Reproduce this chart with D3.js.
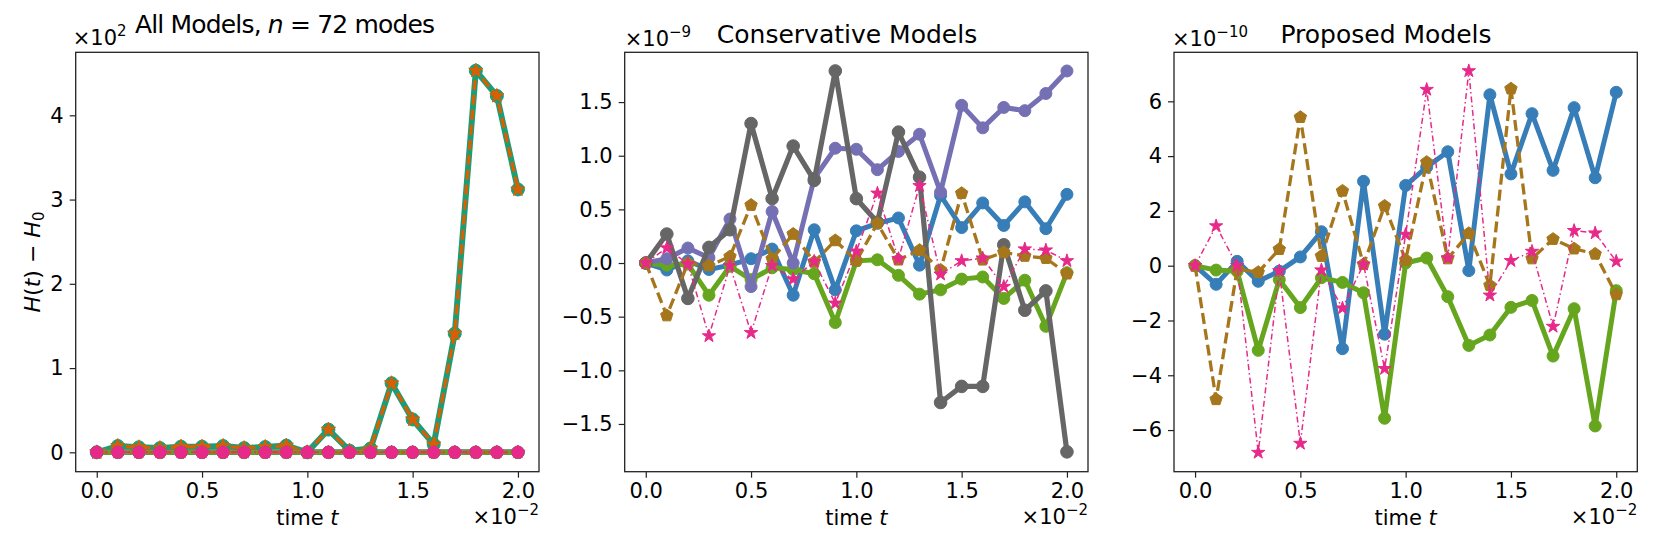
<!DOCTYPE html>
<html>
<head>
<meta charset="utf-8">
<script src="https://cdn.jsdelivr.net/npm/d3@7"></script>
<style>
body { margin: 0; background: #fff; }
text { font-family: "DejaVu Sans", sans-serif; fill: #000; }
</style>
</head>
<body>
<div id="chart"></div>
<script>
// time values, shown in units of 1e-2
var times = [0.0, 0.1, 0.2, 0.3, 0.4, 0.5, 0.6, 0.7, 0.8, 0.9, 1.0,
             1.1, 1.2, 1.3, 1.4, 1.5, 1.6, 1.7, 1.8, 1.9, 2.0];

// All Models panel, non conservative runs (x10^2)
var allTeal   = [0, 0.075, 0.06, 0.05, 0.067, 0.067, 0.075, 0.05, 0.063, 0.08, 0,
                 0.27, 0.02, 0.045, 0.82, 0.39, 0.095, 1.41, 4.53, 4.23, 3.12];
var allOrange = [0, 0.075, 0.06, 0.05, 0.067, 0.067, 0.075, 0.05, 0.063, 0.08, 0,
                 0.27, 0.02, 0.045, 0.82, 0.39, 0.095, 1.41, 4.53, 4.23, 3.12];

// Conservative Models (x10^-9)
var consBlue   = [0, -0.065, 0.02, -0.06, -0.02, 0.04, 0.13, -0.3, 0.31, -0.25, 0.3,
                  0.37, 0.42, -0.02, 0.63, 0.33, 0.56, 0.35, 0.57, 0.32, 0.64];
var consGreen  = [0, -0.02, -0.01, -0.3, -0.03, -0.155, -0.045, -0.06, -0.1, -0.555, 0.02,
                  0.03, -0.115, -0.29, -0.25, -0.15, -0.13, -0.33, -0.16, -0.59, -0.09];
var consPurple = [0, 0.04, 0.14, 0.05, 0.41, -0.22, 0.48, 0.0, 0.79, 1.07, 1.06,
                  0.87, 1.04, 1.2, 0.66, 1.47, 1.26, 1.45, 1.42, 1.58, 1.79];
var consGray   = [0, 0.27, -0.33, 0.146, 0.31, 1.30, 0.6, 1.09, 0.77, 1.79, 0.6,
                  0.38, 1.22, 0.8, -1.30, -1.15, -1.15, 0.17, -0.44, -0.26, -1.76];
var consBrown  = [0, -0.49, 0.0, -0.025, 0.06, 0.54, 0.04, 0.27, 0.01, 0.21, 0.02,
                  0.37, 0.03, 0.12, -0.065, 0.65, 0.03, 0.10, 0.065, 0.045, -0.1];
var consPink   = [0, 0.14, -0.01, -0.68, -0.025, -0.65, -0.025, -0.15, 0.015, -0.375, 0.11,
                  0.65, 0.04, 0.72, -0.105, 0.02, 0.045, -0.22, 0.13, 0.12, 0.02];

// Proposed Models (x10^-10)
var propBlue  = [0, -0.68, 0.16, -0.57, -0.2, 0.32, 1.24, -3.03, 3.08, -2.5, 2.93,
                 3.6, 4.16, -0.18, 6.24, 3.35, 5.55, 3.48, 5.77, 3.21, 6.33];
var propGreen = [0, -0.16, -0.2, -3.09, -0.51, -1.53, -0.44, -0.61, -0.99, -5.57, 0.1,
                 0.28, -1.13, -2.91, -2.53, -1.52, -1.27, -3.3, -1.57, -5.85, -0.91];
var propBrown = [0, -4.88, -0.12, -0.24, 0.6, 5.42, 0.35, 2.73, 0.05, 2.18, 0.21,
                 3.78, 0.26, 1.18, -0.72, 6.46, 0.26, 0.97, 0.62, 0.43, -1.05];
var propPink  = [0, 1.45, 0, -6.82, -0.19, -6.49, -0.16, -1.55, 0.05, -3.76, 1.14,
                 6.43, 0.28, 7.11, -1.08, 0.18, 0.52, -2.22, 1.28, 1.19, 0.16];

var xTicks = [0, 0.5, 1.0, 1.5, 2.0];
var yTicksAll  = [0, 1, 2, 3, 4];
var yTicksCons = [-1.5, -1.0, -0.5, 0, 0.5, 1.0, 1.5];
var yTicksProp = [-6, -4, -2, 0, 2, 4, 6];

// line styles
var styles = {
    teal:   {color: "#1b9e77", width: 6, dash: null, marker: "circle", ms: 6.5},
    orange: {color: "#d95f02", width: 3.2, dash: "10,5", marker: "star", ms: 7.5},
    blue:   {color: "#377eb8", width: 5, dash: null, marker: "circle", ms: 6},
    green:  {color: "#66a61e", width: 5, dash: null, marker: "circle", ms: 6},
    purple: {color: "#7570b3", width: 5, dash: null, marker: "circle", ms: 6},
    gray:   {color: "#666666", width: 5.2, dash: null, marker: "circle", ms: 6.3},
    brown:  {color: "#a6761d", width: 3.3, dash: "11,5", marker: "pentagon", ms: 6.5},
    pink:   {color: "#e7298a", width: 1.5, dash: "6,3,1.5,3", marker: "star", ms: 7},
    pinkDot:{color: "#e7298a", width: 1.5, dash: "6,3,1.5,3", marker: "circle", ms: 6}
};

var W = 1661, H = 554;
var svg = d3.select("#chart").append("svg")
    .attr("width", W)
    .attr("height", H);

var axTop = 52.3, axH = 419.4, axW = 463.3;
var lefts = [75.7, 624.7, 1174];
var tickFont = 21;

var pentagon = {
    draw: function(ctx, size) {
        var r = Math.sqrt(size / 2.3776);
        for (var i = 0; i < 5; i++) {
            var a = -Math.PI / 2 + i * 2 * Math.PI / 5;
            if (i === 0) ctx.moveTo(r * Math.cos(a), r * Math.sin(a));
            else ctx.lineTo(r * Math.cos(a), r * Math.sin(a));
        }
        ctx.closePath();
    }
};

function markerPath(kind, r) {
    if (kind === "star") return d3.symbol(d3.symbolStar, r * r / 0.8908)();
    if (kind === "pentagon") return d3.symbol(pentagon, r * r * 2.3776)();
    return d3.symbol(d3.symbolCircle, Math.PI * r * r)();
}

function drawSeries(g, x, y, vals, st) {
    var line = d3.line()
        .x(function(d, i) { return x(times[i]); })
        .y(function(d) { return y(d); });
    g.append("path")
        .datum(vals)
        .attr("d", line)
        .attr("fill", "none")
        .attr("stroke", st.color)
        .attr("stroke-width", st.width)
        .attr("stroke-dasharray", st.dash)
        .attr("stroke-linejoin", "round");
    g.selectAll(null)
        .data(vals)
        .enter()
        .append("path")
        .attr("d", markerPath(st.marker, st.ms))
        .attr("transform", function(d, i) {
            return "translate(" + x(times[i]) + "," + y(d) + ")";
        })
        .attr("fill", st.color)
        .attr("stroke", st.color)
        .attr("stroke-width", 1);
}

// adds "x10^exp" style text
function sciText(sel, exp) {
    sel.append("tspan").text("\u00d710");
    sel.append("tspan").attr("dy", -9).attr("font-size", 15).text(exp);
}

function makePanel(k, yDomain, yTicks, yFmt, series) {
    var left = lefts[k];
    var x = d3.scaleLinear().domain([-0.1, 2.1]).range([left, left + axW]);
    var y = d3.scaleLinear().domain(yDomain).range([axTop + axH, axTop]);

    var g = svg.append("g");
    var clip = "clip" + k;
    svg.append("clipPath").attr("id", clip)
        .append("rect")
        .attr("x", left).attr("y", axTop).attr("width", axW).attr("height", axH);

    var plot = g.append("g").attr("clip-path", "url(#" + clip + ")");
    series.forEach(function(s) { drawSeries(plot, x, y, s[0], s[1]); });

    // x axis
    var xAxis = d3.axisBottom(x).tickValues(xTicks).tickFormat(d3.format(".1f"))
        .tickSize(6).tickPadding(5);
    var gx = g.append("g")
        .attr("transform", "translate(0," + (axTop + axH) + ")")
        .call(xAxis);
    // y axis
    var yAxis = d3.axisLeft(y).tickValues(yTicks).tickFormat(yFmt)
        .tickSize(6).tickPadding(6);
    var gy = g.append("g")
        .attr("transform", "translate(" + left + ",0)")
        .call(yAxis);
    [gx, gy].forEach(function(a) {
        a.select(".domain").remove();
        a.selectAll("line").attr("stroke", "#222").attr("stroke-width", 1.2);
        a.selectAll("text").attr("font-size", tickFont).attr("font-family", "DejaVu Sans");
    });

    // frame
    g.append("rect")
        .attr("x", left).attr("y", axTop)
        .attr("width", axW).attr("height", axH)
        .attr("fill", "none")
        .attr("stroke", "#222")
        .attr("stroke-width", 1.3);

    // x label
    var xl = g.append("text")
        .attr("x", left + axW / 2)
        .attr("y", 525)
        .attr("text-anchor", "middle")
        .attr("font-size", 21);
    xl.append("tspan").text("time ");
    xl.append("tspan").attr("font-style", "italic").text("t");

    // x offset text
    var xo = g.append("text")
        .attr("x", left + axW)
        .attr("y", 524)
        .attr("text-anchor", "end")
        .attr("font-size", 21);
    sciText(xo, "\u22122");

    return g;
}

var fmtInt = function(d) { return d3.format("d")(d); };

// All Models
var g0 = makePanel(0, [-0.230, 4.748], yTicksAll, fmtInt, [
    [allTeal, styles.teal],
    [allOrange, styles.orange],
    [consBlue.map(function(v) { return v * 1e-11; }), styles.blue],
    [consGreen.map(function(v) { return v * 1e-11; }), styles.green],
    [consPurple.map(function(v) { return v * 1e-11; }), styles.purple],
    [consGray.map(function(v) { return v * 1e-11; }), styles.gray],
    [consBrown.map(function(v) { return v * 1e-11; }), styles.brown],
    [propBlue.map(function(v) { return v * 1e-12; }), styles.blue],
    [propGreen.map(function(v) { return v * 1e-12; }), styles.green],
    [propBrown.map(function(v) { return v * 1e-12; }), styles.brown],
    [propPink.map(function(v) { return v * 1e-12; }), styles.pinkDot],
    [consPink.map(function(v) { return v * 1e-11; }), styles.pink]
]);

// Conservative Models
var g1 = makePanel(1, [-1.945, 1.964], yTicksCons, d3.format(".1f"), [
    [consBlue, styles.blue],
    [consGreen, styles.green],
    [consPurple, styles.purple],
    [consGray, styles.gray],
    [consBrown, styles.brown],
    [consPink, styles.pink]
]);

// Proposed Models
var g2 = makePanel(2, [-7.52, 7.79], yTicksProp, fmtInt, [
    [propBlue, styles.blue],
    [propGreen, styles.green],
    [propBrown, styles.brown],
    [propPink, styles.pink]
]);

// titles
var t0 = svg.append("text").attr("x", 135).attr("y", 33)
    .attr("font-size", 25)
    .attr("textLength", 300)
    .attr("lengthAdjust", "spacing");
t0.append("tspan").text("All Models, ");
t0.append("tspan").attr("font-style", "italic").text("n");
t0.append("tspan").text(" = 72 modes");

svg.append("text").attr("x", 847).attr("y", 43)
    .attr("text-anchor", "middle").attr("font-size", 25)
    .text("Conservative Models");
svg.append("text").attr("x", 1386).attr("y", 43)
    .attr("text-anchor", "middle").attr("font-size", 25)
    .text("Proposed Models");

// y offset texts
sciText(svg.append("text").attr("x", lefts[0] - 3).attr("y", 45).attr("font-size", 21), "2");
sciText(svg.append("text").attr("x", lefts[1]).attr("y", 46).attr("font-size", 21), "\u22129");
sciText(svg.append("text").attr("x", lefts[2] - 2).attr("y", 46).attr("font-size", 21), "\u221210");

// y label
var yl = svg.append("text")
    .attr("transform", "translate(40," + (axTop + axH / 2) + ") rotate(-90)")
    .attr("text-anchor", "middle")
    .attr("font-size", 22);
yl.append("tspan").attr("font-style", "italic").text("H");
yl.append("tspan").text("(");
yl.append("tspan").attr("font-style", "italic").text("t");
yl.append("tspan").text(") \u2212 ");
yl.append("tspan").attr("font-style", "italic").text("H");
yl.append("tspan").attr("dy", 4).attr("font-size", 15).text("0");
</script>
</body>
</html>
